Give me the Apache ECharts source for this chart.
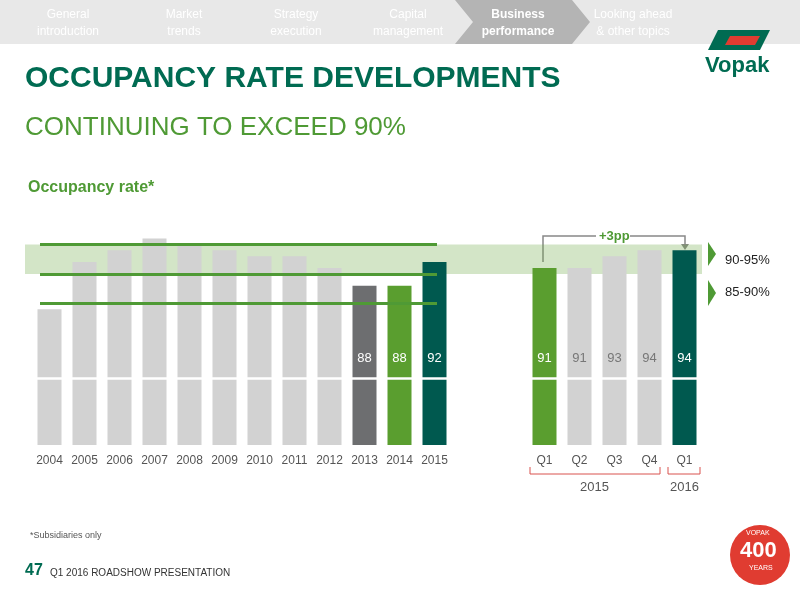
<!DOCTYPE html>
<html>
<head>
<meta charset="UTF-8">
<script src="https://cdn.jsdelivr.net/npm/echarts@6/dist/echarts.min.js"></script>
</head>
<body style="margin:0">
<div id="main" style="width:800px;height:600px;"></div>
<script>
var years = ['2004','2005','2006','2007','2008','2009','2010','2011','2012','2013','2014','2015'];
var yearValues = [84, 92, 94, 96, 95, 94, 93, 93, 91, 88, 88, 92];
var quarters = ['Q1','Q2','Q3','Q4','Q1'];
var quarterValues = [91, 91, 93, 94, 94];
var yearLabels = ['', '', '', '', '', '', '', '', '', '88', '88', '92'];
var quarterLabels = ['91', '91', '93', '94', '94'];

var GREY = '#d2d2d2', DARKGREY = '#6d6e70', GREEN = '#5a9e2f', TEAL = '#00594f';
var yearColors = [GREY,GREY,GREY,GREY,GREY,GREY,GREY,GREY,GREY,DARKGREY,GREEN,TEAL];
var quarterColors = [GREEN,GREY,GREY,GREY,TEAL];

function bars(vals, cols, labels) {
  return vals.map(function (v, i) {
    var dark = cols[i] !== GREY;
    return {value: v, itemStyle: {color: cols[i]},
      label: {show: labels[i] !== '', formatter: labels[i], color: dark ? '#fff' : '#777'}};
  });
}

var chart = echarts.init(document.getElementById('main'));
var wave = function (x1, x2) {
  var pts = [];
  for (var x = x1; x <= x2; x += 4) pts.push([x, 377 + ((x / 4) % 2 ? 1.5 : -1.5)]);
  return {type: 'polyline', z: 100, shape: {points: pts}, style: {stroke: '#fff', lineWidth: 2.5, fill: null}};
};
var txt = function (x, y, t, s) {
  return {type: 'text', x: x, y: y, style: Object.assign({text: t, fontFamily: 'Liberation Sans'}, s)};
};
var tabs = ['General\nintroduction','Market\ntrends','Strategy\nexecution','Capital\nmanagement','Business\nperformance','Looking ahead\n& other topics'];
var tabX = [68, 184, 296, 408, 518, 633];
var graphics = [
  {type: 'rect', shape: {x: 0, y: 0, width: 800, height: 44}, style: {fill: '#e8e8e8'}},
  {type: 'polygon', shape: {points: [[455,0],[572,0],[590,22],[572,44],[455,44],[473,22]]}, style: {fill: '#b4b4b4'}},
  wave(30, 456), wave(527, 702),
  txt(25, 64, 'OCCUPANCY RATE DEVELOPMENTS', {fontSize: 30, fontWeight: 'bold', fill: '#006b52'}),
  txt(25, 115, 'CONTINUING TO EXCEED 90%', {fontSize: 26, fill: '#4f9a35'}),
  txt(28, 180, 'Occupancy rate*', {fontSize: 16, fontWeight: 'bold', fill: '#4f9a35'}),
  {type: 'polygon', shape: {points: [[708,242],[716,254],[708,266]]}, style: {fill: '#4f9a35'}},
  {type: 'polygon', shape: {points: [[708,280],[716,293],[708,306]]}, style: {fill: '#4f9a35'}},
  txt(725, 254, '90-95%', {fontSize: 13, fill: '#222'}),
  txt(725, 286, '85-90%', {fontSize: 13, fill: '#222'}),
  {type: 'polyline', shape: {points: [[543,262],[543,236],[685,236],[685,246]]}, style: {stroke: '#888', lineWidth: 1.5, fill: null}},
  {type: 'polygon', shape: {points: [[681,244],[689,244],[685,250]]}, style: {fill: '#888'}},
  {type: 'rect', shape: {x: 596, y: 228, width: 34, height: 16}, style: {fill: '#fff'}},
  txt(599, 230, '+3pp', {fontSize: 13, fontWeight: 'bold', fill: '#4f9a35'}),
  {type: 'polyline', shape: {points: [[530,467],[530,474],[660,474],[660,467]]}, style: {stroke: '#d9534f', lineWidth: 1, fill: null}},
  {type: 'polyline', shape: {points: [[668,467],[668,474],[700,474],[700,467]]}, style: {stroke: '#d9534f', lineWidth: 1, fill: null}},
  txt(580, 481, '2015', {fontSize: 13, fill: '#555'}),
  txt(670, 481, '2016', {fontSize: 13, fill: '#555'}),
  txt(30, 531, '*Subsidiaries only', {fontSize: 9, fill: '#555'}),
  txt(25, 563, '47', {fontSize: 16, fontWeight: 'bold', fill: '#006b52'}),
  txt(50, 568, 'Q1 2016 ROADSHOW PRESENTATION', {fontSize: 10, fill: '#333'}),
  {type: 'circle', shape: {cx: 760, cy: 555, r: 30}, style: {fill: '#e03c31'}},
  txt(746, 530, 'VOPAK', {fontSize: 7, fill: '#fff'}),
  txt(740, 540, '400', {fontSize: 22, fontWeight: 'bold', fill: '#fff'}),
  txt(749, 565, 'YEARS', {fontSize: 7, fill: '#fff'}),
  {type: 'polygon', shape: {points: [[718,30],[770,30],[760,50],[708,50]]}, style: {fill: '#006b52'}},
  {type: 'polygon', shape: {points: [[730,36],[760,36],[755,45],[725,45]]}, style: {fill: '#e03c31'}},
  txt(705, 55, 'Vopak', {fontSize: 22, fontWeight: 'bold', fill: '#006b52'})
];
tabs.forEach(function (t, i) {
  graphics.push(txt(tabX[i], 6, t, {fontSize: 12, lineHeight: 17, align: 'center', fill: '#fff', fontWeight: i === 4 ? 'bold' : 'normal'}));
});

var axisCommon = {type: 'value', min: 61, max: 101, show: false};
var xCommon = {type: 'category', axisLine: {show: false}, axisTick: {show: false},
  axisLabel: {color: '#555', fontSize: 12, margin: 10, fontFamily: 'Liberation Sans'}};

chart.setOption({
  animation: false,
  textStyle: {fontFamily: 'Liberation Sans'},
  graphic: graphics,
  grid: [
    {left: 32, right: 348, top: 209, bottom: 155},
    {left: 527, right: 98, top: 209, bottom: 155}
  ],
  xAxis: [
    Object.assign({gridIndex: 0, data: years}, xCommon),
    Object.assign({gridIndex: 1, data: quarters}, xCommon)
  ],
  yAxis: [
    Object.assign({gridIndex: 0}, axisCommon),
    Object.assign({gridIndex: 1}, axisCommon)
  ],
  series: [
    {type: 'bar', xAxisIndex: 0, yAxisIndex: 0, barWidth: 24, data: bars(yearValues, yearColors, yearLabels),
     label: {position: 'insideBottom', distance: 80, fontSize: 13},
     markArea: {silent: true, itemStyle: {color: 'rgba(110,170,70,0.3)'},
       data: [[{yAxis: 90, x: 25}, {yAxis: 95, x: 702}]]},
     markLine: {silent: true, symbol: 'none', label: {show: false},
       lineStyle: {color: '#4f9a35', width: 3, type: 'solid'},
       data: [[{yAxis: 95, x: 40}, {yAxis: 95, x: 437}],
              [{yAxis: 90, x: 40}, {yAxis: 90, x: 437}],
              [{yAxis: 85, x: 40}, {yAxis: 85, x: 437}]]}},
    {type: 'bar', xAxisIndex: 1, yAxisIndex: 1, barWidth: 24, data: bars(quarterValues, quarterColors, quarterLabels),
     label: {position: 'insideBottom', distance: 80, fontSize: 13}}
  ]
});
</script>
</body>
</html>
